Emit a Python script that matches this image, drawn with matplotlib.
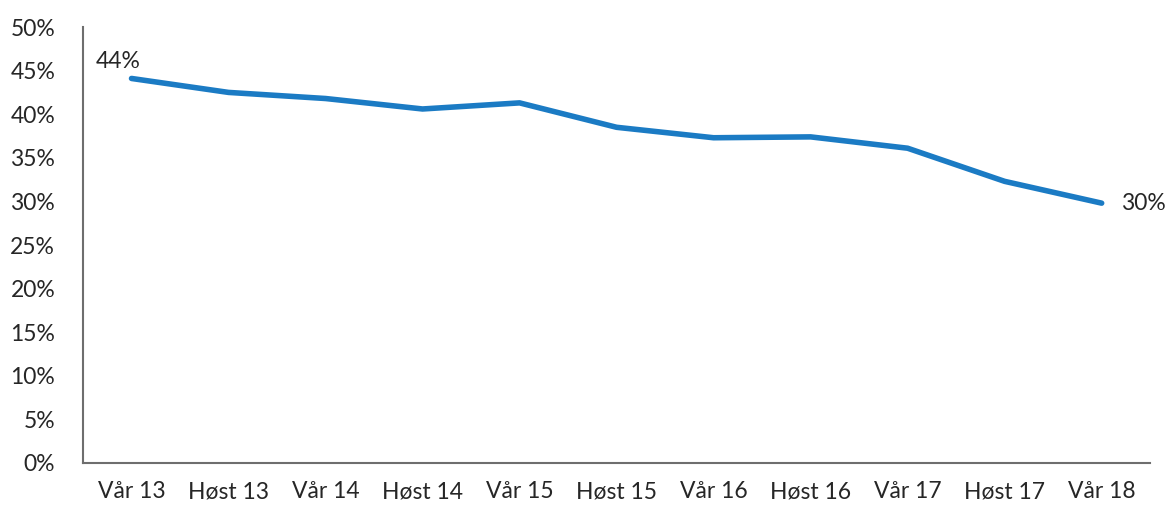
import matplotlib
matplotlib.use("Agg")
import matplotlib.pyplot as plt
from matplotlib.ticker import FuncFormatter

plt.rcParams['font.family'] = ['Lato', 'DejaVu Sans']

perioder = ["Vår 13", "Høst 13", "Vår 14", "Høst 14", "Vår 15", "Høst 15",
            "Vår 16", "Høst 16", "Vår 17", "Høst 17", "Vår 18"]
andel = [44.1, 42.5, 41.8, 40.6, 41.3, 38.5, 37.3, 37.4, 36.1, 32.3, 29.8]

fig = plt.figure(figsize=(11.74, 5.05), dpi=100)
ax = fig.add_axes([0.0707, 0.0832, 0.909, 0.8633])

x = list(range(len(perioder)))
ax.plot(x, andel, color="#1b7bc4", linewidth=4.0, solid_capstyle="round")

ax.text(x[0] - 0.37, andel[0] + 0.7, "44%", fontsize=16.5, color="#262626", va="bottom")
ax.text(x[-1] + 0.2, andel[-1], "30%", fontsize=16.5, color="#262626", va="center")

ax.set_xlim(-0.5, len(perioder) - 0.5)
ax.set_ylim(0, 50)
ax.set_yticks(range(0, 51, 5))
ax.yaxis.set_major_formatter(FuncFormatter(lambda v, p: f"{v:.0f}%"))
ax.set_xticks(x)
ax.set_xticklabels(perioder)
ax.tick_params(axis="both", length=0, labelsize=16.5, colors="#262626")
ax.tick_params(axis="x", pad=13)
ax.tick_params(axis="y", pad=20)

for s in ["top", "right"]:
    ax.spines[s].set_visible(False)
for s in ["left", "bottom"]:
    ax.spines[s].set_color("#6e6e6e")
    ax.spines[s].set_linewidth(1.5)

fig.savefig("out.png", dpi=100)
